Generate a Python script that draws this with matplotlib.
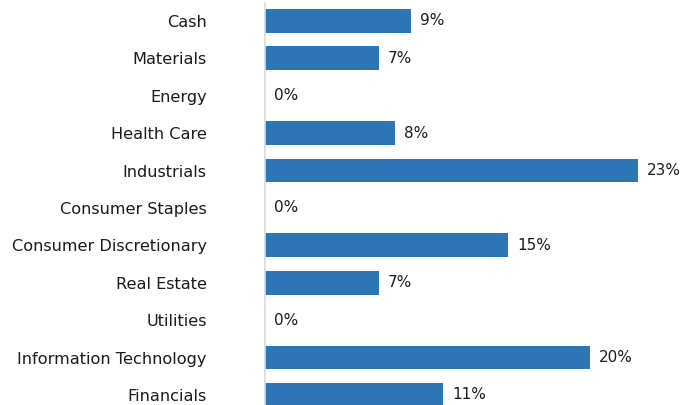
import matplotlib
matplotlib.use("Agg")
import matplotlib.pyplot as plt

categories = ["Cash", "Materials", "Energy", "Health Care", "Industrials",
              "Consumer Staples", "Consumer Discretionary", "Real Estate",
              "Utilities", "Information Technology", "Financials"]
values = [9, 7, 0, 8, 23, 0, 15, 7, 0, 20, 11]

plt.rcParams['font.family'] = ['DejaVu Sans']

fig = plt.figure(figsize=(6.82, 4.05), dpi=100)
ax = fig.add_axes([265/682, 0, 417/682, 1 - 3/405])

ypos = list(range(len(categories)))
ax.barh(ypos, values, height=0.64, color="#2E75B6")
ax.set_ylim(10.27, -0.48)
ax.set_xlim(0, 25.7)

for y, v in zip(ypos, values):
    ax.annotate(f"{v}%", xy=(v, y), xytext=(6.5, 0), textcoords="offset points",
                va="center", ha="left", fontsize=11, color="#1a1a1a")

ax.set_yticks(ypos)
ax.set_yticklabels(categories, fontsize=11.6, color="#1a1a1a")
ax.tick_params(axis="y", length=0, pad=42)
ax.set_xticks([])
for s in ["top", "right", "bottom"]:
    ax.spines[s].set_visible(False)
ax.spines["left"].set_color("#D9D9D9")
ax.spines["left"].set_linewidth(1.2)

fig.savefig("out.png", dpi=100)
